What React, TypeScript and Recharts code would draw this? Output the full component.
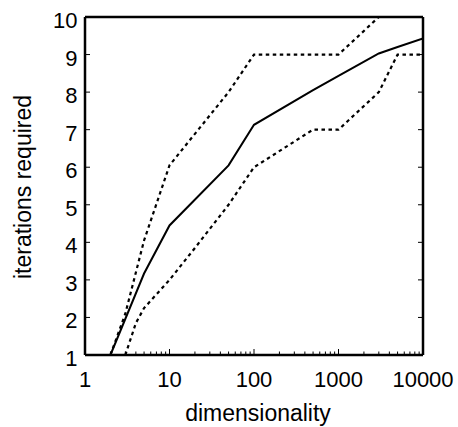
import { LineChart, Line, XAxis, YAxis } from "recharts";

// mean and spread of iterations needed, by dimensionality
const meanPoints = [
  { dim: 2, iters: 1 },
  { dim: 5, iters: 3.17 },
  { dim: 10, iters: 4.45 },
  { dim: 50, iters: 6.05 },
  { dim: 100, iters: 7.13 },
  { dim: 500, iters: 8.05 },
  { dim: 1000, iters: 8.43 },
  { dim: 3000, iters: 9.03 },
  { dim: 5000, iters: 9.2 },
  { dim: 10000, iters: 9.43 },
];

const upperPoints = [
  { dim: 2, iters: 1 },
  { dim: 3, iters: 2.1 },
  { dim: 5, iters: 4.05 },
  { dim: 10, iters: 6.05 },
  { dim: 50, iters: 8 },
  { dim: 100, iters: 9 },
  { dim: 1000, iters: 9 },
  { dim: 3000, iters: 10 },
  { dim: 10000, iters: 10 },
];

const lowerPoints = [
  { dim: 3, iters: 1 },
  { dim: 4, iters: 1.85 },
  { dim: 5, iters: 2.25 },
  { dim: 10, iters: 3 },
  { dim: 20, iters: 3.85 },
  { dim: 50, iters: 5 },
  { dim: 100, iters: 6 },
  { dim: 500, iters: 7 },
  { dim: 1000, iters: 7 },
  { dim: 3000, iters: 8 },
  { dim: 5000, iters: 9 },
  { dim: 10000, iters: 9 },
];

const xMajorTicks = [1, 10, 100, 1000, 10000];
const xMinorSteps = [2, 3, 4, 5, 6, 7, 8, 9];
const yTicks = [1, 2, 3, 4, 5, 6, 7, 8, 9, 10];

const xTicks = [
  ...xMajorTicks,
  ...xMajorTicks.slice(0, -1).flatMap((d) => xMinorSteps.map((m) => d * m)),
];

const font = "'Liberation Sans', Arial, Helvetica, sans-serif";

const isMajor = (v: number) => xMajorTicks.includes(v);

const BottomTick = (props: any) => {
  const { x, y, payload } = props;
  const len = isMajor(payload.value) ? 6 : 3.5;
  return (
    <g>
      <line x1={x} x2={x} y1={y} y2={y - len} stroke="#000" strokeWidth={1} />
      {isMajor(payload.value) && (
        <text
          x={x}
          y={y + 32}
          textAnchor="middle"
          fontSize={22}
          fontFamily={font}
          fill="#000"
        >
          {payload.value}
        </text>
      )}
    </g>
  );
};

const TopTick = (props: any) => {
  const { x, y, payload } = props;
  const len = isMajor(payload.value) ? 6 : 3.5;
  return <line x1={x} x2={x} y1={y} y2={y + len} stroke="#000" strokeWidth={1} />;
};

const LeftTick = (props: any) => {
  const { x, y, payload } = props;
  return (
    <g>
      <line x1={x} x2={x + 5} y1={y} y2={y} stroke="#000" strokeWidth={1} />
      <text
        x={x - 7.5}
        y={y + 11}
        textAnchor="end"
        fontSize={22}
        fontFamily={font}
        fill="#000"
      >
        {payload.value}
      </text>
    </g>
  );
};

const RightTick = (props: any) => {
  const { x, y } = props;
  return <line x1={x} x2={x - 5} y1={y} y2={y} stroke="#000" strokeWidth={1} />;
};

const axisLine = { stroke: "#000", strokeWidth: 2.5 };

export default function App() {
  return (
    <div style={{ position: "absolute", left: 0, top: 0, background: "#fff" }}>
      <LineChart
        width={458}
        height={427}
        margin={{ top: 0, right: 0, bottom: 0, left: 0 }}
      >
        <XAxis
          dataKey="dim"
          type="number"
          scale="log"
          domain={[1, 10000]}
          allowDataOverflow
          ticks={xTicks}
          interval={0}
          tick={<BottomTick />}
          tickLine={false}
          tickSize={0}
          tickMargin={0}
          axisLine={axisLine}
          height={72}
          label={{
            content: () => (
              <text
                x={258}
                y={421}
                textAnchor="middle"
                fontSize={23}
                fontFamily={font}
                fill="#000"
              >
                dimensionality
              </text>
            ),
          }}
        />
        <XAxis
          xAxisId="top"
          orientation="top"
          type="number"
          scale="log"
          domain={[1, 10000]}
          allowDataOverflow
          ticks={xTicks}
          interval={0}
          tick={<TopTick />}
          tickLine={false}
          tickSize={0}
          tickMargin={0}
          axisLine={axisLine}
          height={17}
        />
        <YAxis
          type="number"
          domain={[1, 10]}
          allowDataOverflow
          ticks={yTicks}
          interval={0}
          tick={<LeftTick />}
          tickLine={false}
          tickSize={0}
          tickMargin={0}
          axisLine={axisLine}
          width={85}
          label={{
            content: () => (
              <text
                transform="translate(30.5,187) rotate(-90)"
                textAnchor="middle"
                fontSize={23}
                fontFamily={font}
                fill="#000"
              >
                iterations required
              </text>
            ),
          }}
        />
        <YAxis
          yAxisId="right"
          orientation="right"
          type="number"
          domain={[1, 10]}
          allowDataOverflow
          ticks={yTicks}
          interval={0}
          tick={<RightTick />}
          tickLine={false}
          tickSize={0}
          tickMargin={0}
          axisLine={axisLine}
          width={35}
        />
        <Line
          data={upperPoints}
          dataKey="iters"
          stroke="#000"
          strokeWidth={2.2}
          strokeDasharray="3.5 3.5"
          dot={false}
          isAnimationActive={false}
        />
        <Line
          data={lowerPoints}
          dataKey="iters"
          stroke="#000"
          strokeWidth={2.2}
          strokeDasharray="3.5 3.5"
          dot={false}
          isAnimationActive={false}
        />
        <Line
          data={meanPoints}
          dataKey="iters"
          stroke="#000"
          strokeWidth={2}
          dot={false}
          isAnimationActive={false}
        />
      </LineChart>
    </div>
  );
}
